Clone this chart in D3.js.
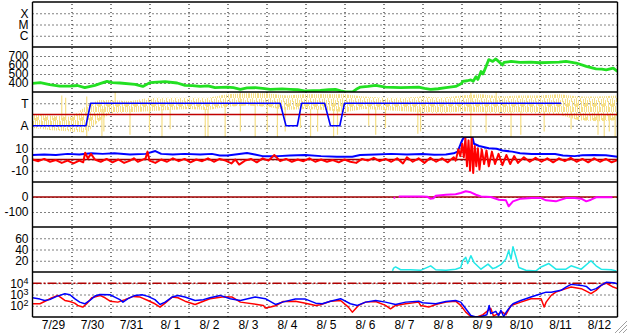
<!DOCTYPE html>
<html>
<head>
<meta charset="utf-8">
<script src="https://cdn.jsdelivr.net/npm/d3@7"></script>
<style>
  body { margin: 0; background: #fff; }
  svg text { font-family: "Liberation Sans", Arial, Helvetica, sans-serif; }
</style>
</head>
<body>
<div class="root"></div>
<script>

// ---- data (t = days since 7/29 00:00 UT) ----
var dayLabels = ['7/29', '7/30', '7/31', '8/ 1', '8/ 2', '8/ 3', '8/ 4', '8/ 5',
                 '8/ 6', '8/ 7', '8/ 8', '8/ 9', '8/10', '8/11', '8/12'];

var flareTicks  = [1, 2, 3],   flareLabels  = ['C', 'M', 'X'];
var speedTicks  = [400, 500, 600, 700];
var sectorTicks = [-1, 1],     sectorLabels = ['A', 'T'];
var bzTicks     = [-10, 0, 10];
var dstTicks    = [-100, 0];
var kpTicks     = [20, 40, 60];
var fluxTicks   = [1e2, 1e3, 1e4];

var windSpeed = [[0,397],[0.2,405],[0.44,382],[0.7,366],[0.96,366],[1.15,372],[1.34,348],[1.6,374],[1.75,395],
  [1.91,418],[2.05,405],[2.24,400],[2.63,385],[2.83,362],[3.01,404],[3.2,410],[3.4,416],[3.71,400],[3.91,374],
  [4.1,370],[4.3,362],[4.5,368],[4.68,348],[4.99,355],[5.15,348],[5.33,330],[5.5,345],[5.71,348],[5.9,340],
  [6.1,330],[6.4,335],[6.61,330],[6.8,325],[7.0,311],[7.2,315],[7.38,318],[7.6,325],[7.77,330],[7.9,312],
  [8.03,302],[8.21,302],[8.3,330],[8.41,355],[8.6,362],[8.8,374],[9.05,355],[9.25,352],[9.44,348],[9.7,352],
  [9.9,355],[10.05,340],[10.21,330],[10.4,336],[10.6,348],[10.85,362],[11.0,395],[11.03,418],[11.15,425],
  [11.24,435],[11.3,420],[11.37,470],[11.42,440],[11.5,528],[11.55,500],[11.63,584],[11.7,660],[11.8,640],
  [11.88,667],[11.95,640],[12.05,600],[12.09,629],[12.27,640],[12.5,630],[12.78,633],[13.0,625],[13.3,629],
  [13.5,632],[13.68,640],[13.94,622],[14.2,584],[14.45,558],[14.6,555],[14.71,547],[14.89,566],[15,528]];

var sector = [[0,-1],[1.37,-1],[1.49,1],[6.35,1],[6.5,-1],[6.79,-1],[6.9,1],[7.49,1],[7.64,-1],[7.88,-1],[8.0,1],[13.55,1]];

// [t, low, high]
var sectorBand = [[0,-1.2,0],[0.5,-1.4,-0.1],[1.0,-1.5,-0.2],[1.4,-1.6,0.8],[1.7,-0.6,1.3],[2.0,0.1,1.3],
  [2.5,0.2,1.2],[3.0,0.3,1.5],[3.5,0.4,1.5],[4.0,0.5,1.5],[4.5,0.4,1.5],[5.0,0.7,1.8],[5.5,0.8,1.9],
  [6.0,0.7,1.9],[6.5,0.4,1.7],[7.0,0.5,1.8],[7.5,0.4,1.8],[8.0,0.2,1.8],[8.5,0.5,1.6],[9.0,0.4,1.5],
  [9.5,0.3,1.5],[10.0,0.2,1.6],[10.5,0.1,1.5],[11.0,0.3,1.7],[11.5,0.2,1.8],[12.0,0.1,1.6],[12.5,0.2,1.7],
  [13.0,0.1,1.7],[13.5,0,1.8],[14.0,-0.5,1.6],[14.5,-0.6,1.6],[15,-0.5,1.7]];

var sectorSpikes = [[0.75,-0.5,1.7],[0.85,-0.5,1.5],[1.39,-1.9,1.6],[1.78,-1.9,0.5],[1.83,-1.5,0.5],[2.12,1,2],
  [2.5,-1.8,0.5],[3.0,-1.5,0.5],[3.32,-2,0.5],[3.53,-1.3,0.5],[4.43,-2,0.5],[4.5,-2,0.5],[4.94,-2,0.8],
  [5.33,-1.5,2],[5.71,-2,1],[6.02,-1.5,0.8],[6.28,-2,0.8],[6.48,-1.5,0.5],[6.87,-1.2,0.5],[7.13,-2,0.5],
  [7.31,-1.5,0.5],[7.72,-2,0.5],[7.82,-1.8,0.5],[8.62,-1,0.5],[8.8,-1.8,0.5],[9.05,-1.2,0.5],[9.88,-1.7,0.5],
  [9.95,-1.5,0.5],[11.24,-2,2],[11.63,-1.6,0.3],[11.89,1,2],[12.27,-2,0.3],[12.52,-1.8,0.3],[13.12,-1.5,0.3],
  [13.81,-1.3,0.3],[14.5,-1.8,0.3],[14.66,-2,0],[14.79,-1.5,0],[14.94,-2,0]];

var imfBt = [[0,4],[0.3,4.5],[0.6,4],[0.9,5],[1.2,4.5],[1.5,5.5],[1.8,5],[2.1,5.5],[2.5,4.5],[2.9,5],[3.15,7.5],
  [3.3,5],[3.6,4.5],[3.9,5],[4.3,4.5],[4.6,5],[4.8,3.5],[5.0,3.5],[5.2,4.5],[5.5,5.8],[5.7,4.5],[5.9,3],
  [6.3,3],[6.6,3.5],[7.0,4],[7.4,3],[7.8,2.5],[8.2,2.5],[8.4,4],[8.8,4.5],[9.2,5],[9.6,4.5],[10.0,4.8],
  [10.3,4.2],[10.6,4.5],[10.8,5.5],[10.9,7],[10.98,14],[11.03,18],[11.08,20],[11.28,20],[11.32,14],
  [11.45,12],[11.7,10],[11.9,9.5],[12.05,8],[12.3,7],[12.5,5.5],[12.8,4.8],[13.1,5],[13.4,4.8],[13.6,3.5],
  [13.9,3],[14.1,3.8],[14.4,4],[14.7,3.8],[15,2.5]];

var imfBz = [[0,0],[0.15,-1.5],[0.3,0.5],[0.45,-2],[0.6,-0.5],[0.75,-3],[0.9,-1],[1.05,-3.5],[1.2,-1],[1.3,-2.5],
  [1.35,6],[1.42,1],[1.5,5],[1.6,0],[1.75,-2],[1.9,0.5],[2.05,-2.5],[2.2,0],[2.35,-3],[2.5,-1],[2.6,1],
  [2.7,-2],[2.8,-0.5],[2.9,1],[2.95,7],[3.0,-1],[3.15,-3],[3.3,0],[3.45,-2],[3.6,1],[3.75,-1.5],[3.9,0.5],
  [4.05,-2.5],[4.2,0],[4.35,-1.5],[4.5,1],[4.65,-2],[4.8,0.5],[4.95,-1],[5.1,-3.5],[5.2,0],[5.3,-4.5],
  [5.45,-1],[5.6,0.5],[5.75,-2.5],[5.9,1],[6.05,-1],[6.2,4],[6.35,-1.5],[6.5,0.5],[6.65,-2],[6.8,0],
  [6.95,-1.5],[7.1,1],[7.25,-2],[7.4,0],[7.55,-2],[7.7,-0.5],[7.85,-2.5],[8.0,0],[8.15,-2],[8.3,-3],
  [8.45,0.5],[8.6,-1],[8.75,1.5],[8.9,-1.5],[9.05,0.5],[9.2,-2],[9.35,1],[9.5,-3.5],[9.6,2],[9.75,-2],
  [9.9,1],[10.05,-3],[10.2,1.5],[10.35,-2],[10.5,1],[10.65,-2.5],[10.8,2],[10.85,-1],[10.92,9],[10.97,3],
  [11.02,14],[11.06,2],[11.1,19],[11.14,-6],[11.18,17],[11.22,-10],[11.26,19],[11.3,-12],[11.34,12],
  [11.38,-6],[11.42,10],[11.46,-9],[11.52,9],[11.58,-4],[11.64,8],[11.7,-6],[11.78,7],[11.86,-4],[11.95,5],
  [12.05,-5],[12.15,4],[12.25,-4],[12.35,3],[12.45,-3],[12.6,2],[12.75,-2],[12.9,1.5],[13.05,-2],[13.2,1],
  [13.35,-2.5],[13.5,1],[13.65,-1.5],[13.8,1.5],[13.95,-2],[14.1,0.5],[14.25,-2.5],[14.4,1],[14.55,-2],
  [14.7,0.5],[14.85,-2.5],[15,-0.5]];

var dstIndex = [[9.26,-5],[9.3,-5],[9.32,null],[9.39,3],[9.6,3],[9.8,3],[10.0,3],[10.12,2],[10.2,-11],[10.28,-8],
  [10.34,9],[10.6,15],[10.85,18],[10.98,27],[11.11,38],[11.24,31],[11.37,15],[11.5,4],[11.75,0],[11.96,-18],
  [12.14,-22],[12.21,-62],[12.32,-29],[12.52,-11],[12.8,-7],[13.04,-7],[13.17,-22],[13.42,-29],[13.68,-7],
  [13.9,-6],[14.07,-11],[14.2,-29],[14.32,-18],[14.45,-2],[14.7,-2],[14.87,-2]];

var apIndex = [[9.23,2],[9.26,7],[9.31,9],[9.44,4],[9.69,4],[9.95,3],[10.21,11],[10.34,4],[10.6,3],[10.85,5],
  [10.98,8],[11.03,20],[11.11,26],[11.16,15],[11.24,29],[11.32,17],[11.5,5],[11.68,14],[11.8,6],[11.88,8],
  [12.01,13],[12.14,23],[12.21,38],[12.27,23],[12.32,45],[12.4,26],[12.47,8],[12.65,3],[12.91,2],[13.04,9],
  [13.24,15],[13.42,5],[13.68,5],[13.81,11],[14.07,5],[14.32,20],[14.45,11],[14.58,5],[14.84,4],[14.97,2]];

var fluxBlue = [[0,510],[0.19,390],[0.31,295],[0.44,350],[0.62,680],[0.83,1175],[0.96,955],[1.08,425],[1.21,210],
  [1.34,150],[1.47,295],[1.6,725],[1.73,1000],[1.99,955],[2.11,590],[2.24,350],[2.32,210],[2.45,425],
  [2.63,830],[2.81,955],[2.96,680],[3.14,350],[3.27,130],[3.4,210],[3.58,590],[3.73,830],[3.91,590],
  [4.17,295],[4.38,350],[4.55,510],[4.81,830],[5.07,425],[5.33,295],[5.71,590],[5.97,425],[6.23,130],
  [6.41,210],[6.74,390],[7.0,390],[7.26,170],[7.43,150],[7.64,255],[7.9,425],[8.15,150],[8.33,107],
  [8.54,210],[8.8,295],[9.05,210],[9.31,130],[9.57,210],[9.9,255],[10.0,185],[10.34,150],[10.6,240],
  [10.85,295],[10.98,210],[11.11,54],[11.24,13.5],[11.37,10],[11.5,11],[11.65,16],[11.71,107],[11.75,20],
  [11.88,32],[11.95,12.6],[12.01,40],[12.08,11],[12.14,25],[12.21,54],[12.32,150],[12.52,295],[12.78,590],
  [13.04,1175],[13.17,1620],[13.3,1620],[13.55,2340],[13.68,4570],[13.81,7940],[14.07,6460],[14.2,5250],
  [14.32,2340],[14.45,3310],[14.58,6460],[14.71,12000],[14.89,11200],[15,9120]];

var fluxRed = [[0,150],[0.19,150],[0.31,240],[0.5,510],[0.65,830],[0.83,295],[0.96,240],[1.08,170],[1.16,107],
  [1.29,76],[1.39,150],[1.52,510],[1.73,830],[1.86,510],[1.99,255],[2.19,210],[2.37,350],[2.58,680],
  [2.76,590],[2.96,295],[3.14,150],[3.27,76],[3.4,170],[3.58,590],[3.73,510],[3.91,255],[4.17,130],
  [4.43,295],[4.55,425],[4.86,590],[5.12,590],[5.33,210],[5.92,107],[5.97,62],[6.1,76],[6.23,100],
  [6.43,240],[6.74,255],[7.0,170],[7.26,107],[7.38,123],[7.64,255],[7.9,295],[8.1,76],[8.2,27],[8.36,107],
  [8.54,210],[8.8,240],[9.05,107],[9.18,54],[9.31,107],[9.57,150],[9.9,210],[9.95,107],[10.16,76],
  [10.34,130],[10.6,210],[10.85,255],[10.98,107],[11.11,27],[11.24,11],[11.4,10],[11.55,16],[11.75,58],
  [11.82,12.6],[11.95,20],[12.05,27],[12.14,16],[12.27,107],[12.52,210],[12.78,425],[13.04,425],[13.12,76],
  [13.17,210],[13.3,830],[13.42,1620],[13.68,3310],[13.81,4570],[14.07,3310],[14.2,2000],[14.32,1175],
  [14.45,2340],[14.58,6460],[14.71,10500],[14.89,4570],[15,3310]];

// ---- layout ----
var width = 628, height = 334;
var left = 32.5, right = 617.5, top0 = 2, panelH = 45;
var bottom = top0 + 7 * panelH;
var start = Date.UTC(2011, 6, 29);
function day(t) { return new Date(start + t * 864e5); }

var x = d3.scaleUtc().domain([day(0), day(15)]).range([left, right]);

var panels = [
  {domain: [0, 4], ticks: flareTicks, labels: flareLabels},
  {domain: [300, 800], ticks: speedTicks},
  {domain: [-2, 2], ticks: sectorTicks, labels: sectorLabels},
  {domain: [-20, 20], ticks: bzTicks},
  {domain: [-200, 100], ticks: dstTicks},
  {domain: [0, 80], ticks: kpTicks},
  {domain: [10, 1e5], ticks: fluxTicks, log: true}
];

panels.forEach(function (p, i) {
  p.top = top0 + i * panelH;
  p.y = (p.log ? d3.scaleLog() : d3.scaleLinear())
          .domain(p.domain)
          .range([p.top + panelH, p.top]);
});

var svg = d3.select('.root')
            .append('svg')
            .attr('width', width)
            .attr('height', height)
            .style('display', 'block');

var defs = svg.append('defs');
panels.forEach(function (p, i) {
  defs.append('clipPath').attr('id', 'clip' + i)
      .append('rect')
      .attr('x', left).attr('y', p.top)
      .attr('width', right - left).attr('height', panelH);
});

// speckled fill for the sector band
var yellow = '#f6df86';
var pat = defs.append('pattern')
              .attr('id', 'speckle')
              .attr('patternUnits', 'userSpaceOnUse')
              .attr('width', 9).attr('height', 14);
[[0, 0, 1, 9], [1, 5, 1, 9], [2, 2, 1, 6], [3, 8, 1, 6], [4, 0, 1, 4], [5, 3, 1, 11],
 [6, 9, 1, 5], [7, 1, 1, 7], [8, 6, 1, 8]].forEach(function (r) {
  pat.append('rect').attr('x', r[0]).attr('y', r[1]).attr('width', r[2]).attr('height', r[3])
     .style('fill', yellow);
});

// ---- grid ----
var grid = svg.append('g');

grid.append('g')
    .attr('transform', 'translate(0,' + bottom + ')')
    .call(d3.axisBottom(x)
            .tickValues(d3.utcDay.range(day(1), day(15)))
            .tickSize(-(bottom - top0))
            .tickFormat(''))
    .call(g => g.select('.domain').remove());

panels.forEach(function (p) {
  grid.append('g')
      .attr('transform', 'translate(' + left + ',0)')
      .call(d3.axisLeft(p.y)
              .tickValues(p.ticks)
              .tickSize(-(right - left))
              .tickFormat(''))
      .call(g => g.select('.domain').remove());
});

grid.selectAll('line')
    .attr('stroke', '#000')
    .attr('stroke-width', 1)
    .attr('stroke-dasharray', '1,3');

// ---- data ----
function lineFor(p) {
  return d3.line()
           .defined(d => d[1] != null)
           .x(d => x(day(d[0])))
           .y(d => p.y(d[1]));
}

function drawLine(i, data, color, w) {
  svg.append('path')
     .datum(data)
     .attr('clip-path', 'url(#clip' + i + ')')
     .attr('d', lineFor(panels[i]))
     .style('stroke', color)
     .style('stroke-width', w)
     .style('stroke-linejoin', 'round')
     .style('fill', 'none');
}

function zeroLine(i, v, color, dash) {
  svg.append('line')
     .attr('x1', left).attr('x2', right)
     .attr('y1', panels[i].y(v)).attr('y2', panels[i].y(v))
     .style('stroke', color)
     .style('stroke-width', 1.5)
     .style('stroke-dasharray', dash || null);
}

// panel 2 : speed
drawLine(1, windSpeed, '#22e022', 2.8);

// panel 3 : sector
var p3 = panels[2];
svg.append('path')
   .datum(sectorBand)
   .attr('clip-path', 'url(#clip2)')
   .attr('d', d3.area()
                .x(d => x(day(d[0])))
                .y0(d => p3.y(d[1]))
                .y1(d => p3.y(d[2])))
   .style('fill', 'url(#speckle)');

svg.append('g')
   .attr('clip-path', 'url(#clip2)')
   .selectAll('line')
   .data(sectorSpikes)
   .join('line')
   .attr('x1', d => x(day(d[0]))).attr('x2', d => x(day(d[0])))
   .attr('y1', d => p3.y(d[1])).attr('y2', d => p3.y(d[2]))
   .style('stroke', yellow)
   .style('stroke-width', 1.2);

zeroLine(2, 0, '#c00000');
drawLine(2, sector, '#0000ff', 1.6);

// panel 4 : IMF
zeroLine(3, 0, '#a00000');
drawLine(3, imfBt, '#0000ff', 2);
drawLine(3, imfBz, '#ff0000', 2);

// panel 5 : Dst
zeroLine(4, 0, '#a00000');
drawLine(4, dstIndex, '#ff00ff', 2);

// panel 6
drawLine(5, apIndex, '#22e8e8', 1.5);

// panel 7 : flux
zeroLine(6, 1e4, '#b00000', '9,2,2,2');
drawLine(6, fluxRed, '#ff0000', 1.5);
drawLine(6, fluxBlue, '#0000ff', 1.5);

// ---- frame ----
var frame = svg.append('g').style('stroke', '#000').style('stroke-width', 1.4);
d3.range(8).forEach(function (i) {
  var yy = top0 + i * panelH;
  frame.append('line').attr('x1', left).attr('x2', right).attr('y1', yy).attr('y2', yy);
});
frame.append('line').attr('x1', left).attr('x2', left).attr('y1', top0).attr('y2', bottom);
frame.append('line').attr('x1', right).attr('x2', right).attr('y1', top0).attr('y2', bottom);

// ---- labels ----
panels.forEach(function (p) {
  var ax = svg.append('g')
              .attr('transform', 'translate(' + left + ',0)')
              .call(d3.axisLeft(p.y)
                      .tickValues(p.ticks)
                      .tickSize(0)
                      .tickPadding(4)
                      .tickFormat((d, k) => p.labels ? p.labels[k] : (p.log ? '10' : d)));
  ax.select('.domain').remove();
  ax.attr('font-size', 12).attr('font-family', null);
  ax.selectAll('text').attr('fill', '#000');
  if (p.log) {
    ax.selectAll('.tick text').each(function (d) {
      d3.select(this).append('tspan')
        .attr('dy', '-0.45em')
        .attr('font-size', 9)
        .text(Math.round(Math.log10(d)));
    });
  }
});

var xa = svg.append('g')
            .attr('transform', 'translate(1,' + bottom + ')')
            .call(d3.axisBottom(x)
                    .tickValues(dayLabels.map((s, i) => day(i + 0.5)))
                    .tickSize(0)
                    .tickPadding(3.5)
                    .tickFormat((d, i) => dayLabels[i]));
xa.select('.domain').remove();
xa.attr('font-size', 12).attr('font-family', null);
xa.selectAll('text').attr('fill', '#000');

// window grip
var grip = svg.append('g').style('stroke', '#a0a0a0').style('stroke-width', 1);
[4, 8, 12].forEach(function (k) {
  grip.append('line').attr('x1', 627 - k).attr('y1', 333).attr('x2', 627).attr('y2', 333 - k);
});

</script>
</body>
</html>
